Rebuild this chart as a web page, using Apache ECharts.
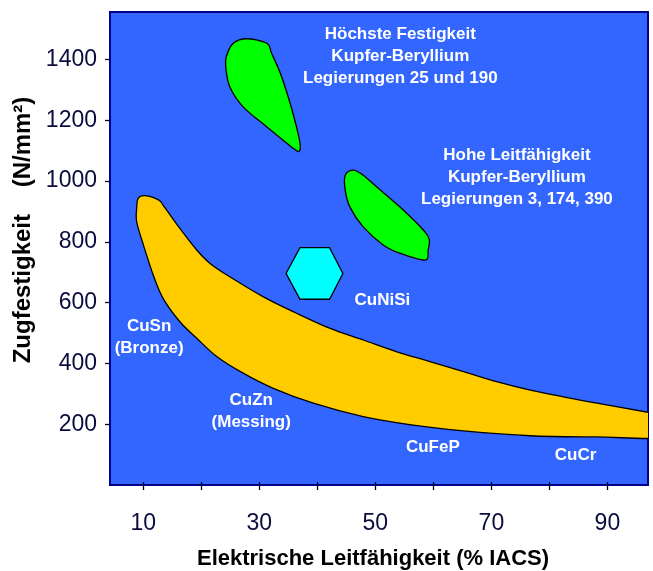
<!DOCTYPE html>
<html>
<head>
<meta charset="utf-8">
<script src="https://cdn.jsdelivr.net/npm/echarts@6/dist/echarts.min.js"></script>
<style>
html,body{margin:0;padding:0;background:#fff;}
#chart{width:653px;height:571px;}
</style>
</head>
<body>
<div id="chart"></div>
<script>
// ---- data ----
const xTickValues = [10, 20, 30, 40, 50, 60, 70, 80, 90];
const xLabelValues = [10, 30, 50, 70, 90];
const yLabelValues = [200, 400, 600, 800, 1000, 1200, 1400];

// CuSn ... CuCr band (conductivity %IACS, tensile strength N/mm²)
const bandStandardAlloys = [
  [10.3, 952], [9.1, 943], [8.85, 910], [8.85, 866], [10.0, 790], [11.7, 691],
  [13.4, 614], [16.3, 537], [19.2, 483], [22.7, 422], [27.2, 368], [32.4, 318],
  [39.3, 269], [47.9, 225], [56.5, 197], [65.2, 178], [76.7, 162], [88.0, 158],
  [102.0, 157],
  [102.0, 222], [96.5, 241], [88.2, 269], [82.4, 290], [76.7, 312], [70.9, 340],
  [65.2, 373], [59.4, 406], [53.7, 438], [47.9, 477], [42.2, 515], [36.4, 565],
  [30.7, 619], [24.9, 685], [21.5, 729], [19.2, 773], [16.3, 844], [13.4, 921],
  [12.6, 938]
];
// Kupfer-Beryllium Legierungen 25 und 190
const beHighStrength = [
  [27.8, 1468], [31.3, 1453], [32.1, 1420], [33.6, 1355], [35.3, 1256], [36.4, 1178],
  [37.0, 1125], [36.9, 1099], [35.9, 1107], [31.3, 1178], [27.2, 1244], [24.9, 1310],
  [24.2, 1376], [24.3, 1409], [25.5, 1453]
];
// Kupfer-Beryllium Legierungen 3, 174, 390
const beHighConductivity = [
  [46.2, 1036], [47.9, 1019], [50.2, 981], [54.2, 915], [58.3, 838], [59.3, 806],
  [59.1, 773], [58.6, 740], [54.3, 762], [51.4, 789], [47.9, 849], [45.6, 915],
  [44.8, 970], [44.8, 1019]
];
// CuNiSi hexagon
const cuNiSi = [
  [37.0, 781], [42.1, 781], [44.4, 696], [42.1, 611], [37.0, 611], [34.6, 696]
];

// region labels
const labelTexts = [
  'Höchste Festigkeit\nKupfer-Beryllium\nLegierungen 25 und 190',
  'Hohe Leitfähigkeit\nKupfer-Beryllium\nLegierungen 3, 174, 390',
  'CuNiSi',
  'CuSn\n(Bronze)',
  'CuZn\n(Messing)',
  'CuFeP',
  'CuCr'
];
const labelX = [54.3, 74.4, 51.2, 11.0, 28.6, 59.9, 84.5];
const labelY = [1411, 1013, 608, 486, 241, 124, 98];

const xTitle = 'Elektrische Leitfähigkeit (% IACS)';
const yTitle = 'Zugfestigkeit    (N/mm²)';

// ---- chart ----
const FONT = '"Liberation Sans", Arial, Helvetica, sans-serif';
const chart = echarts.init(document.getElementById('chart'), null, {renderer: 'canvas'});

// closed Catmull-Rom curve through pixel points, as SVG path data
function closedCurvePath(p) {
  const n = p.length;
  const f = v => v.toFixed(2);
  let d = 'M' + f(p[0][0]) + ',' + f(p[0][1]);
  for (let i = 0; i < n; i++) {
    const p0 = p[(i - 1 + n) % n], p1 = p[i], p2 = p[(i + 1) % n], p3 = p[(i + 2) % n];
    const c1x = p1[0] + (p2[0] - p0[0]) / 6, c1y = p1[1] + (p2[1] - p0[1]) / 6;
    const c2x = p2[0] - (p3[0] - p1[0]) / 6, c2y = p2[1] - (p3[1] - p1[1]) / 6;
    d += 'C' + f(c1x) + ',' + f(c1y) + ' ' + f(c2x) + ',' + f(c2y) + ' ' + f(p2[0]) + ',' + f(p2[1]);
  }
  return d + 'Z';
}

function shapeSeries(points, fill, curved) {
  return {
    type: 'custom',
    coordinateSystem: 'cartesian2d',
    xAxisIndex: 0, yAxisIndex: 0,
    clip: true,
    silent: true,
    data: points,
    renderItem: function (params, api) {
      if (params.dataIndex !== 0) return null;
      const pts = points.map(p => api.coord(p));
      const style = {fill: fill, stroke: '#000000', lineWidth: 1.3};
      if (curved) {
        return {type: 'path', shape: {pathData: closedCurvePath(pts)}, style: style};
      }
      return {type: 'polygon', shape: {points: pts}, style: style};
    }
  };
}

const labelData = labelTexts.map((t, i) => [labelX[i], labelY[i], i]);

const option = {
  animation: false,
  backgroundColor: '#ffffff',
  grid: {
    left: 110, right: 5, top: 12, bottom: 86,
    show: true, backgroundColor: '#3366ff',
    borderColor: '#00008b', borderWidth: 2
  },
  xAxis: [{
    type: 'value', min: 4.25, max: 97,
    splitLine: {show: false},
    axisLine: {show: false},
    axisTick: {show: true, customValues: xTickValues, length: 5, inside: false,
      lineStyle: {color: '#000022', width: 1.3}},
    axisLabel: {customValues: xLabelValues, fontSize: 23, color: '#0b0b3d',
      fontFamily: FONT, margin: 27, formatter: v => String(v)}
  }, {
    type: 'value', min: 4.25, max: 97, position: 'bottom',
    splitLine: {show: false},
    axisLine: {show: false},
    axisTick: {show: true, customValues: xTickValues, length: 3, inside: true,
      lineStyle: {color: '#000022', width: 1.3}},
    axisLabel: {show: false}
  }],
  yAxis: {
    type: 'value', min: 0, max: 1556,
    splitLine: {show: false},
    axisLine: {show: false},
    axisTick: {show: true, customValues: yLabelValues, length: 5,
      lineStyle: {color: '#000022', width: 1.3}},
    axisLabel: {customValues: yLabelValues, fontSize: 23, color: '#0b0b3d',
      fontFamily: FONT, margin: 13, formatter: v => String(v)}
  },
  graphic: [
    {type: 'text', x: 373, y: 559, silent: true,
      style: {text: xTitle, fill: '#000000', font: 'bold 22px ' + FONT,
        align: 'center', verticalAlign: 'middle'}},
    {type: 'text', x: 23, y: 230, rotation: Math.PI / 2, silent: true,
      style: {text: yTitle, fill: '#000000', font: 'bold 24px ' + FONT,
        align: 'center', verticalAlign: 'middle'}}
  ],
  series: [
    shapeSeries(bandStandardAlloys, '#ffcc00', true),
    shapeSeries(beHighStrength, '#00ff00', true),
    shapeSeries(beHighConductivity, '#00ff00', true),
    shapeSeries(cuNiSi, '#00ffff', false),
    {
      type: 'custom',
      coordinateSystem: 'cartesian2d',
      silent: true,
      data: labelData,
      renderItem: function (params, api) {
        const c = api.coord([api.value(0), api.value(1)]);
        return {
          type: 'text',
          x: c[0], y: c[1],
          style: {
            text: labelTexts[api.value(2)],
            fill: '#ffffff',
            font: 'bold 17px ' + FONT,
            lineHeight: 22,
            align: 'center',
            verticalAlign: 'middle'
          }
        };
      }
    }
  ]
};
chart.setOption(option);
</script>
</body>
</html>
